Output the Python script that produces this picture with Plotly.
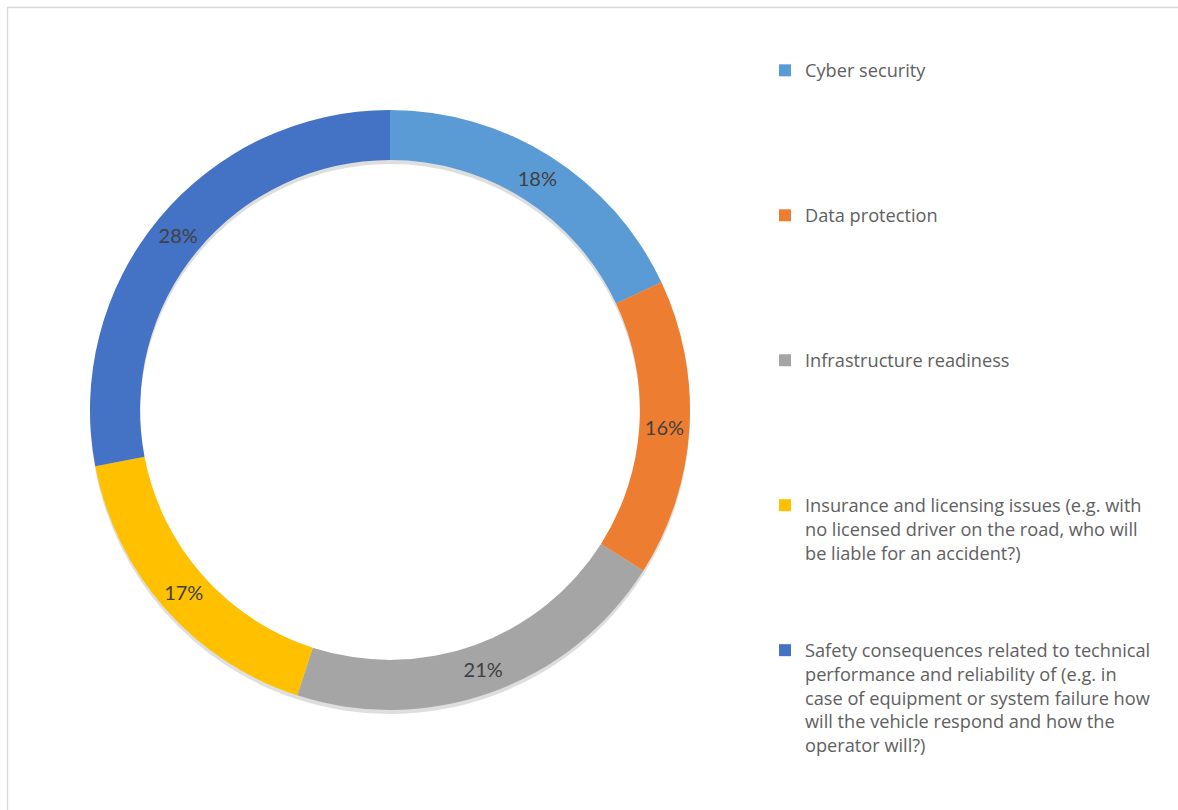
import textwrap
import plotly.graph_objects as go

# Survey responses: main concerns about autonomous vehicles (share of respondents, %)
categories = [
    "Cyber security",
    "Data protection",
    "Infrastructure readiness",
    "Insurance and licensing issues (e.g. with no licensed driver on the road, who will be liable for an accident?)",
    "Safety consequences related to technical performance and reliability of (e.g. in case of equipment or system failure how will the vehicle respond and how the operator will?)",
]
shares = [18, 16, 21, 17, 28]
colors = ["#5B9BD5", "#ED7D31", "#A5A5A5", "#FFC000", "#4472C4"]

W, H = 1178, 810
CX, CY, R = 390, 410, 300          # ring centre and outer radius (px)
HOLE = 0.833
LEGEND_LINES = 6                   # each legend entry occupies six text lines


def legend_label(text):
    lines = textwrap.wrap(text, width=41)
    lines += ["\u00a0"] * (LEGEND_LINES - len(lines))
    return "<br>".join(lines)


labels = [legend_label(c) for c in categories]


def domain(dx=0, dy=0):
    return dict(
        x=[(CX - R + dx) / W, (CX + R + dx) / W],
        y=[(H - CY - R - dy) / H, (H - CY + R - dy) / H],
    )


fig = go.Figure()

# soft drop shadow beneath the ring
fig.add_trace(go.Pie(
    labels=labels, values=shares, sort=False, direction="clockwise",
    hole=HOLE, domain=domain(0, 4), showlegend=False,
    marker=dict(colors=["rgba(0,0,0,0.13)"] * len(shares), line=dict(width=0)),
    textinfo="none", hoverinfo="skip",
))

fig.add_trace(go.Pie(
    labels=labels, values=shares, sort=False, direction="clockwise",
    hole=HOLE, domain=domain(),
    marker=dict(colors=colors, line=dict(width=0)),
    texttemplate="%{percent:.0%}", textposition="inside",
    insidetextorientation="horizontal",
    textfont=dict(family="Lato", size=20, color="#404040"),
    hovertemplate="%{label}<br>%{percent:.0%}<extra></extra>",
))

fig.update_layout(
    width=W, height=H,
    margin=dict(l=0, r=0, t=0, b=0),
    paper_bgcolor="white",
    font=dict(family="Lato", color="#595959"),
    legend=dict(
        x=765 / W, xanchor="left", y=1 - 52 / H, yanchor="top",
        valign="top", font=dict(family="Open Sans", size=18.2, color="#606060"),
        bgcolor="rgba(0,0,0,0)",
    ),
    shapes=[dict(
        type="rect", xref="paper", yref="paper",
        x0=7.5 / W, x1=1.02, y0=-0.02, y1=1 - 7.5 / H,
        line=dict(color="#D9D9D9", width=1.3), fillcolor="rgba(0,0,0,0)",
        layer="below",
    )],
)

fig.write_html("out.html")
